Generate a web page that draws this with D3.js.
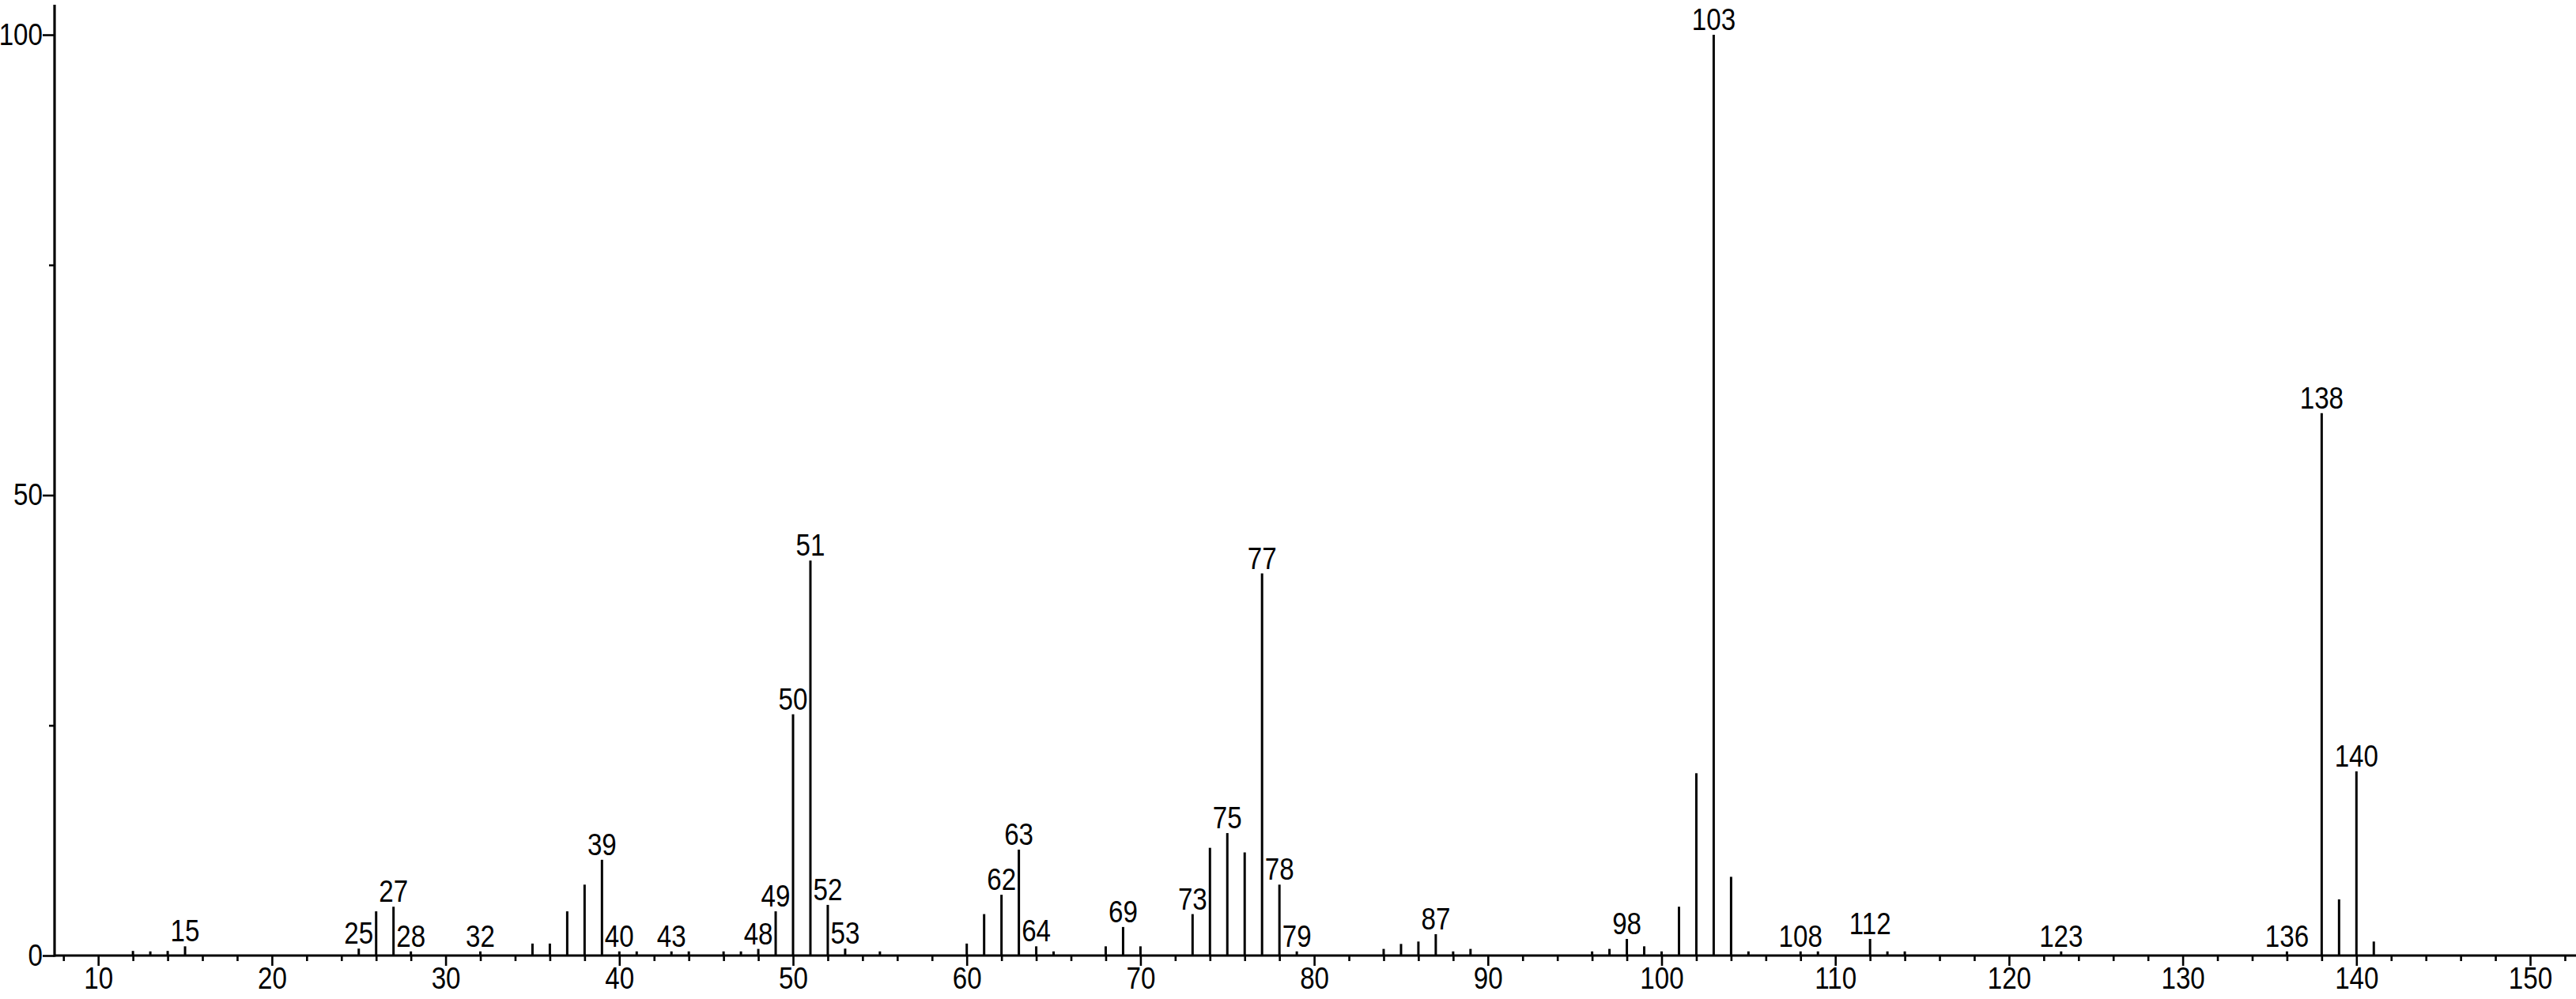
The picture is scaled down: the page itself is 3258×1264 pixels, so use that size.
<!DOCTYPE html>
<html>
<head>
<meta charset="utf-8">
<script src="https://cdn.jsdelivr.net/npm/d3@7"></script>
<style>
  html, body { margin: 0; padding: 0; background: #fff; }
  svg { display: block; }
  text { font-family: "Liberation Sans Narrow", "Arial Narrow", "Liberation Sans", Arial, sans-serif; font-size: 39px; fill: #000; }
</style>
</head>
<body>
<svg id="chart" width="3258" height="1264"></svg>
<script>
// m/z values of the peaks
const mz = [12, 13, 14, 15, 25, 26, 27, 28, 32, 35, 36, 37, 38, 39, 40, 41, 43, 44, 46, 47, 48, 49,
  50, 51, 52, 53, 55, 60, 61, 62, 63, 64, 65, 68, 69, 70, 73, 74, 75, 76, 77, 78, 79,
  84, 85, 86, 87, 88, 89, 96, 97, 98, 99, 100, 101, 102, 103, 104, 105, 108, 109,
  112, 113, 114, 123, 136, 138, 139, 140, 141];
// relative intensities (%)
const intensity = [0.5, 0.45, 0.5, 1.0, 0.75, 4.8, 5.3, 0.45, 0.45, 1.3, 1.3, 4.8, 7.7, 10.4, 0.45, 0.45, 0.45, 0.45, 0.45, 0.45, 0.72, 4.8,
  26.2, 42.9, 5.5, 0.75, 0.45, 1.3, 4.5, 6.6, 11.5, 1.0, 0.45, 1.0, 3.1, 1.0, 4.5, 11.7, 13.3, 11.2, 41.5, 7.7, 0.45,
  0.72, 1.26, 1.52, 2.32, 0.45, 0.72, 0.45, 0.72, 1.8, 1.0, 0.45, 5.3, 19.8, 100, 8.55, 0.45, 0.45, 0.45,
  1.8, 0.45, 0.45, 0.45, 0.45, 58.9, 6.1, 20.0, 1.52];
// peaks that carry an m/z label
const labeledMz = [15, 25, 27, 28, 32, 39, 40, 43, 48, 49, 50, 51, 52, 53, 62, 63, 64, 69, 73, 75, 77, 78, 79,
  87, 98, 103, 108, 112, 123, 136, 138, 140];
// axis ticks
const xMajorTicks = [10, 20, 30, 40, 50, 60, 70, 80, 90, 100, 110, 120, 130, 140, 150];
const yMajorTicks = [0, 50, 100];
const yMinorTicks = [25, 75];

const peaks = mz.map((m, i) => ({ mz: m, v: intensity[i], labeled: labeledMz.includes(m) }));

const svg = d3.select("#chart");
const x = d3.scaleLinear().domain([10, 150]).range([124.2, 3200]);
const y = d3.scaleLinear().domain([0, 100]).range([1209, 44]);
const axisLeftX = 69, axisRightX = 3258, axisTopY = 6;
const narrow = "scale(0.85,1)";

// x axis: minor ticks every 2, major ticks every 10
const xMinor = d3.range(8, 153, 2).filter(v => v % 10 !== 0);
const gxMinor = svg.append("g").attr("transform", `translate(0,${y(0)})`)
  .call(d3.axisBottom(x).tickValues(xMinor).tickSize(7).tickFormat(""));
const gx = svg.append("g").attr("transform", `translate(0,${y(0)})`)
  .call(d3.axisBottom(x).tickValues(xMajorTicks).tickSize(13).tickFormat(d3.format("d")));
[gxMinor, gx].forEach(g => {
  g.select(".domain").remove();
  g.selectAll(".tick line").attr("stroke", "#000").attr("stroke-width", 2.6);
});
gx.selectAll(".tick text").attr("font-size", null).attr("font-family", null)
  .attr("y", 42).attr("dy", 0).attr("transform", narrow);

// y axis
const gyMinor = svg.append("g").attr("transform", `translate(${axisLeftX},0)`)
  .call(d3.axisLeft(y).tickValues(yMinorTicks).tickSize(7).tickFormat(""));
const gy = svg.append("g").attr("transform", `translate(${axisLeftX},0)`)
  .call(d3.axisLeft(y).tickValues(yMajorTicks).tickSize(15).tickFormat(d3.format("d")));
[gyMinor, gy].forEach(g => {
  g.select(".domain").remove();
  g.selectAll(".tick line").attr("stroke", "#000").attr("stroke-width", 2.6);
});
gy.selectAll(".tick text").attr("font-size", null).attr("font-family", null)
  .attr("x", 0).attr("text-anchor", "end")
  .attr("transform", "translate(-15,0) " + narrow);

// axis lines
svg.append("line").attr("x1", axisLeftX).attr("x2", axisRightX).attr("y1", y(0)).attr("y2", y(0))
  .attr("stroke", "#000").attr("stroke-width", 3.2);
svg.append("line").attr("x1", axisLeftX).attr("x2", axisLeftX).attr("y1", y(0) + 1.6).attr("y2", axisTopY)
  .attr("stroke", "#000").attr("stroke-width", 3.2);

// peaks
svg.append("g").selectAll("line").data(peaks).join("line")
  .attr("x1", d => x(d.mz)).attr("x2", d => x(d.mz))
  .attr("y1", y(0)).attr("y2", d => y(d.v))
  .attr("stroke", "#000").attr("stroke-width", 3);

// labels
svg.append("g").selectAll("text").data(peaks.filter(d => d.labeled)).join("text")
  .attr("transform", d => `translate(${x(d.mz)},${y(d.v) - 6}) ${narrow}`)
  .attr("text-anchor", "middle")
  .text(d => d.mz);
</script>
</body>
</html>
